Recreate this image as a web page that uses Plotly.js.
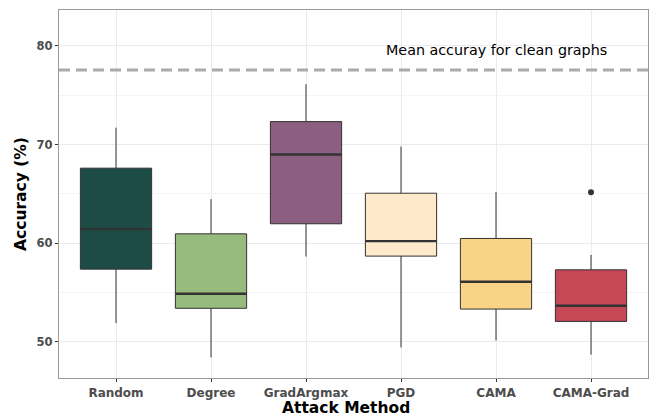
<!DOCTYPE html>
<html>
<head>
<meta charset="utf-8">
<script src="https://cdn.plot.ly/plotly-3.0.1.min.js"></script>
<style>html,body{margin:0;padding:0;background:#fff;}#chart{width:650px;height:418px;}</style>
</head>
<body>
<div id="chart"></div>
<script>
const categories = ["Random", "Degree", "GradArgmax", "PGD", "CAMA", "CAMA-Grad"];
const lowerWhisker = [51.9, 48.42, 58.65, 49.43, 50.14, 48.69];
const q1Values     = [57.37, 53.4, 61.97, 58.69, 53.32, 52.07];
const medianValues = [61.43, 54.87, 68.99, 60.21, 56.09, 53.66];
const q3Values     = [67.61, 60.95, 72.33, 65.07, 60.48, 57.3];
const upperWhisker = [71.72, 64.47, 76.12, 69.8, 65.18, 58.82];
const outlierCategory = ["CAMA-Grad"];
const outlierValues = [65.18];
const boxColors = ["#1d4c47", "#97bb7c", "#8c5f81", "#feeacb", "#f9d487", "#c54857"];
const cleanMean = 77.57;
const cleanLabel = "Mean accuray for clean graphs";
const yTicks = [50, 60, 70, 80];
const xTitle = "Attack Method";
const yTitle = "Accuracy (%)";

const boxWidth = 0.75;
const traces = [];
categories.forEach((c, i) => {
  traces.push({
    type: "box",
    x: [i],
    q1: [q1Values[i]],
    median: [medianValues[i]],
    q3: [q3Values[i]],
    lowerfence: [lowerWhisker[i]],
    upperfence: [upperWhisker[i]],
    width: boxWidth,
    whiskerwidth: 0,
    fillcolor: boxColors[i],
    line: {color: "#333333", width: 1},
    marker: {color: "#333333"},
    boxpoints: false,
    hoverinfo: "skip",
    showlegend: false
  });
  traces.push({
    type: "scatter",
    mode: "lines",
    x: [i - boxWidth / 2, i + boxWidth / 2],
    y: [medianValues[i], medianValues[i]],
    line: {color: "#333333", width: 2.4},
    hoverinfo: "skip",
    showlegend: false
  });
});
traces.push({
  type: "scatter",
  mode: "markers",
  x: outlierCategory.map(c => categories.indexOf(c)),
  y: outlierValues,
  marker: {color: "#333333", size: 6},
  hoverinfo: "skip",
  showlegend: false
});

const tickFont = {family: "DejaVu Sans, sans-serif", size: 12, color: "#4d4d4d", weight: "bold"};
const titleFont = {family: "DejaVu Sans, sans-serif", size: 15.5, color: "#000", weight: "bold"};

const layout = {
  width: 650,
  height: 418,
  margin: {l: 59, r: 2, t: 10, b: 40},
  paper_bgcolor: "#ffffff",
  plot_bgcolor: "#ffffff",
  font: {family: "DejaVu Sans, sans-serif", color: "#000"},
  showlegend: false,
  xaxis: {
    range: [-0.6, 5.6],
    tickvals: categories.map((c, i) => i),
    ticktext: categories,
    showgrid: true,
    gridcolor: "#ebebeb",
    gridwidth: 1,
    zeroline: false,
    showline: true,
    linecolor: "#9a9a9a",
    linewidth: 1.3,
    mirror: true,
    ticks: "outside",
    ticklen: 3,
    tickcolor: "#333333",
    tickfont: tickFont
  },
  yaxis: {
    range: [46.33, 83.65],
    tickvals: yTicks,
    showgrid: true,
    gridcolor: "#ebebeb",
    gridwidth: 1,
    minor: {dtick: 5, tick0: 45, showgrid: true, gridcolor: "#f4f4f4", gridwidth: 1, ticks: ""},
    zeroline: false,
    showline: true,
    linecolor: "#9a9a9a",
    linewidth: 1.3,
    mirror: true,
    ticks: "outside",
    ticklen: 3,
    tickcolor: "#333333",
    tickfont: {family: "DejaVu Sans, sans-serif", size: 11.5, color: "#4d4d4d", weight: "bold"},
    title: {text: yTitle, font: titleFont, standoff: 6}
  },
  shapes: [{
    type: "line",
    xref: "paper", x0: 0, x1: 1,
    yref: "y", y0: cleanMean, y1: cleanMean,
    line: {color: "#aaaaaa", width: 3, dash: "11px,6px"},
    layer: "above"
  }],
  annotations: [{
    x: categories.indexOf("CAMA"),
    y: cleanMean + 2.05,
    xref: "x", yref: "y",
    text: cleanLabel,
    showarrow: false,
    font: {family: "DejaVu Sans, sans-serif", size: 14.3, color: "#000"},
    xanchor: "center", yanchor: "middle"
  }, {
    x: 0.487, y: 0,
    xref: "paper", yref: "paper",
    text: xTitle,
    showarrow: false,
    font: titleFont,
    xanchor: "center", yanchor: "top",
    yshift: -19
  }]
};

Plotly.newPlot("chart", traces, layout, {displayModeBar: false, staticPlot: true});
</script>
</body>
</html>
